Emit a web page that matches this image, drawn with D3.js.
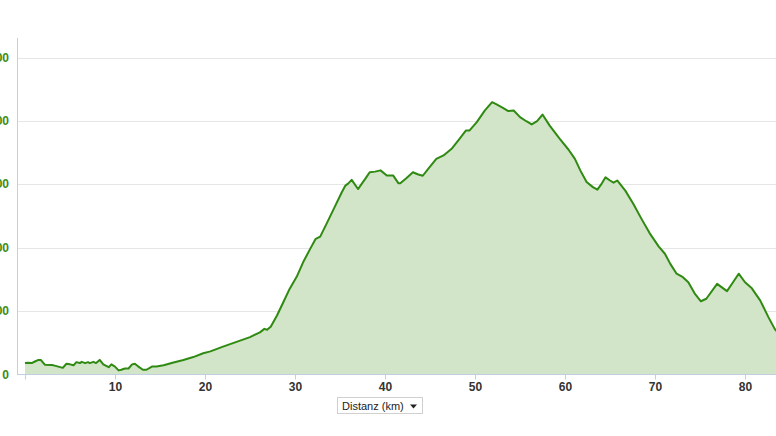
<!DOCTYPE html>
<html>
<head>
<meta charset="utf-8">
<script src="https://cdn.jsdelivr.net/npm/d3@7"></script>
<style>
  html, body { margin: 0; padding: 0; background: #fff; }
  svg { display: block; overflow: hidden; }
</style>
</head>
<body>
<svg id="chart" width="776" height="436"></svg>
<script>
// Distance along the route (km)
const distKm = [0, 0.37, 0.74, 1.1, 1.5, 1.75, 2.2, 3.0, 3.3, 4.2, 4.6, 5.0, 5.4, 5.7, 6.1, 6.3, 6.7, 7.0, 7.2, 7.6, 7.9, 8.3, 8.7, 9.3, 9.6, 10.0, 10.4, 10.7, 11.1, 11.5, 11.9, 12.2, 12.6, 13.1, 13.5, 14.1, 14.6, 15.4, 16.5, 17.6, 18.7, 19.8, 20.6, 22.0, 23.5, 25.0, 26.1, 26.6, 26.9, 27.3, 28.0, 28.7, 29.4, 30.2, 30.9, 31.7, 32.3, 32.8, 33.5, 34.4, 35.2, 35.6, 35.9, 36.3, 37.0, 37.8, 38.3, 38.9, 39.5, 40.2, 40.9, 41.5, 41.7, 42.4, 43.1, 43.7, 44.2, 44.8, 45.7, 46.5, 47.4, 48.3, 49.0, 49.4, 50.2, 51.1, 51.9, 52.4, 53.1, 53.7, 54.3, 55.0, 55.7, 56.3, 56.9, 57.5, 58.3, 59.4, 60.4, 61.1, 61.7, 62.4, 63.1, 63.6, 64.1, 64.5, 65.0, 65.4, 65.8, 66.7, 67.6, 68.5, 69.4, 70.4, 71.1, 71.7, 72.4, 73.1, 73.7, 74.4, 75.1, 75.7, 76.9, 78.0, 78.5, 79.3, 80.0, 80.7, 81.7, 82.6, 83.3, 84.2];
// Elevation (m)
const elevM = [36, 37, 36, 41, 46, 46, 31, 30, 28, 21, 34, 32, 29, 39, 36, 40, 36, 39, 36, 40, 36, 46, 32, 23, 32, 25, 13, 15, 19, 19, 32, 34, 25, 15, 15, 25, 25, 29, 38, 46, 55, 67, 73, 88, 103, 118, 133, 144, 141, 151, 186, 228, 270, 309, 354, 397, 428, 435, 475, 528, 575, 596, 602, 614, 585, 617, 638, 640, 644, 628, 628, 603, 603, 620, 638, 631, 627, 649, 680, 691, 712, 744, 770, 770, 796, 833, 859, 852, 841, 831, 833, 812, 799, 789, 799, 820, 785, 744, 709, 680, 644, 607, 591, 583, 603, 622, 612, 605, 612, 580, 538, 491, 446, 404, 381, 349, 318, 307, 291, 256, 231, 239, 286, 263, 284, 318, 291, 274, 233, 181, 144, 112];
// Axis ticks
const xTicks = [0, 10, 20, 30, 40, 50, 60, 70, 80];
const yTicks = [0, 200, 400, 600, 800, 1000];
const xTitle = "Distanz (km)";

const data = distKm.map((d, i) => ({ x: d, y: elevM[i] }));

const svg = d3.select("#chart");
const W = 776;
const axisX = 17, axisTop = 38;

const x = d3.scaleLinear().domain([0, 84.2]).range([25, 25 + 84.2 * 9]);
const y = d3.scaleLinear().domain([0, 1000]).range([374.5, 57.5]);

// grid lines
svg.append("g").selectAll("line").data(yTicks.filter(t => t > 0)).join("line")
  .attr("x1", axisX).attr("x2", W)
  .attr("y1", d => Math.round(y(d)) + 0.5).attr("y2", d => Math.round(y(d)) + 0.5)
  .attr("stroke", "#e6e6e6").attr("stroke-width", 1);

// area + line
const area = d3.area().x(d => x(d.x)).y0(y(0)).y1(d => y(d.y));
const line = d3.line().x(d => x(d.x)).y(d => y(d.y));
svg.append("path").datum(data).attr("d", area).attr("fill", "#d3e5c8");
svg.append("path").datum(data).attr("d", line)
  .attr("fill", "none").attr("stroke", "#2f8a12").attr("stroke-width", 2)
  .attr("stroke-linejoin", "round");

// y axis line
svg.append("line").attr("x1", axisX + 0.5).attr("x2", axisX + 0.5)
  .attr("y1", axisTop).attr("y2", 375).attr("stroke", "#c0d0e0");

// y axis labels (cut at the left edge as in the reference)
svg.append("g").selectAll("text").data(yTicks).join("text")
  .attr("x", 9).attr("y", d => y(d) + 4)
  .attr("text-anchor", "end")
  .attr("font-family", "'Liberation Sans', Arial, sans-serif")
  .attr("font-weight", "bold").attr("font-size", 12)
  .attr("fill", "#3b8c12")
  .text(d => d);

// x axis
const xAxis = d3.axisBottom(x).tickValues(xTicks).tickSize(5).tickPadding(3)
  .tickFormat(d => d === 0 ? "" : d);
const gx = svg.append("g").attr("transform", "translate(0,374.5)").call(xAxis);
gx.select(".domain").remove();
gx.selectAll(".tick line").attr("stroke", "#c0d0e0");
gx.selectAll(".tick text")
  .attr("font-family", "'Liberation Sans', Arial, sans-serif")
  .attr("font-weight", "bold").attr("font-size", 12)
  .attr("fill", "#333");
svg.append("line").attr("x1", axisX).attr("x2", W)
  .attr("y1", 374.5).attr("y2", 374.5).attr("stroke", "#c0d0e0");

// x title dropdown box
const bx = 337, by = 397.5, bw = 85, bh = 16;
svg.append("rect").attr("x", bx + 0.5).attr("y", by).attr("width", bw).attr("height", bh)
  .attr("fill", "#fff").attr("stroke", "#d0d0d0");
svg.append("text").attr("x", bx + 5).attr("y", by + 12)
  .attr("font-family", "'Liberation Sans', Arial, sans-serif")
  .attr("font-size", 11).attr("fill", "#222")
  .text(xTitle);
svg.append("path")
  .attr("d", `M${bx + 73},${by + 7} L${bx + 80},${by + 7} L${bx + 76.5},${by + 11} Z`)
  .attr("fill", "#222");
</script>
</body>
</html>
